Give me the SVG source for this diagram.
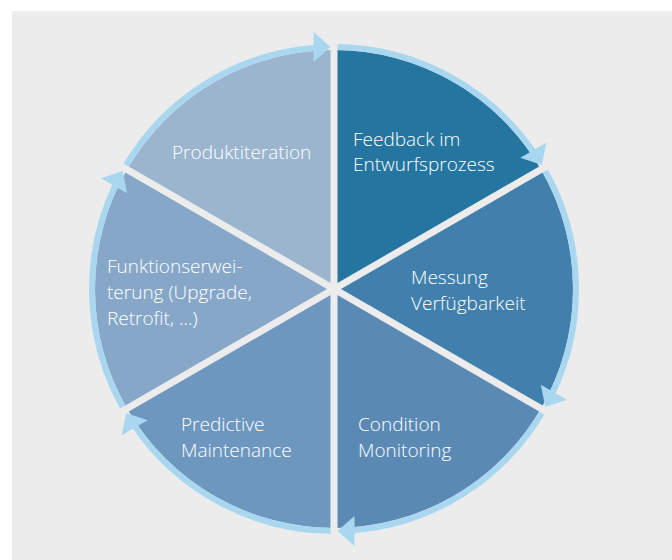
<svg xmlns="http://www.w3.org/2000/svg" width="672" height="560" viewBox="0 0 672 560">
  <defs>
    <style>
      .label { font-family: "Open Sans", "Liberation Sans", sans-serif; font-size: 19px; font-weight: 350; fill: #ffffff; }
      .ring { fill: none; stroke: #a9d7f0; stroke-width: 6; }
      .divider { stroke: #ebeceb; stroke-width: 7; }
      .head { fill: #a9d7f0; }
    </style>
    <!-- arrowhead at the top of the circle, pointing clockwise -->
    <polygon id="arrowhead" points="330.5,47 313.5,32 313.5,62"/>
  </defs>

  <rect x="0" y="0" width="672" height="560" fill="#ffffff"/>
  <rect x="12" y="11" width="660" height="549" fill="#ebeceb"/>

  <!-- cycle segments, clockwise from the top -->
  <g id="feedback">
    <path d="M334,289 L334,50 A239,239 0 0 1 540.98,169.5 Z" fill="#2475a0"/>
    <text class="label" x="353" y="146">Feedback im</text>
    <text class="label" x="353" y="171">Entwurfsprozess</text>
  </g>
  <g id="messung">
    <path d="M334,289 L540.98,169.5 A239,239 0 0 1 540.98,408.5 Z" fill="#4180ac"/>
    <text class="label" x="411" y="284">Messung</text>
    <text class="label" x="411" y="310">Verfügbarkeit</text>
  </g>
  <g id="condition-monitoring">
    <path d="M334,289 L540.98,408.5 A239,239 0 0 1 334,528 Z" fill="#5a8ab4"/>
    <text class="label" x="358" y="431">Condition</text>
    <text class="label" x="358" y="457">Monitoring</text>
  </g>
  <g id="predictive-maintenance">
    <path d="M334,289 L334,528 A239,239 0 0 1 127.02,408.5 Z" fill="#6d97bf"/>
    <text class="label" x="181" y="431">Predictive</text>
    <text class="label" x="181" y="457">Maintenance</text>
  </g>
  <g id="funktionserweiterung">
    <path d="M334,289 L127.02,408.5 A239,239 0 0 1 127.02,169.5 Z" fill="#87a7c8"/>
    <text class="label" x="107" y="273">Funktionserwei-</text>
    <text class="label" x="107" y="299">terung (Upgrade,</text>
    <text class="label" x="107" y="325">Retrofit, …)</text>
  </g>
  <g id="produktiteration">
    <path d="M334,289 L127.02,169.5 A239,239 0 0 1 334,50 Z" fill="#9bb5cf"/>
    <text class="label" x="172" y="159">Produktiteration</text>
  </g>

  <g id="connectors">
    <!-- outer ring arcs, one per segment -->
    <path class="ring" d="M334,47 A242,242 0 0 1 533.4,151.9"/>
    <path class="ring" d="M543.6,168 A242,242 0 0 1 552.4,393.2"/>
    <path class="ring" d="M543.6,410 A242,242 0 0 1 353,530.3"/>
    <path class="ring" d="M334,531 A242,242 0 0 1 134.6,426.1"/>
    <path class="ring" d="M124.4,410 A242,242 0 0 1 115.6,184.8"/>
    <path class="ring" d="M124.4,168 A242,242 0 0 1 315,47.7"/>

    <!-- dividers between the segments -->
    <line class="divider" x1="334" y1="38" x2="334" y2="540"/>
    <line class="divider" x1="550.5" y1="164" x2="117.5" y2="414"/>
    <line class="divider" x1="550.5" y1="414" x2="117.5" y2="164"/>

    <!-- arrowheads at the end of each segment -->
    <use href="#arrowhead" class="head"/>
    <use href="#arrowhead" class="head" transform="rotate(60 334 289)"/>
    <use href="#arrowhead" class="head" transform="rotate(120 334 289)"/>
    <use href="#arrowhead" class="head" transform="rotate(180 334 289)"/>
    <use href="#arrowhead" class="head" transform="rotate(240 334 289)"/>
    <use href="#arrowhead" class="head" transform="rotate(300 334 289)"/>
  </g>
</svg>
